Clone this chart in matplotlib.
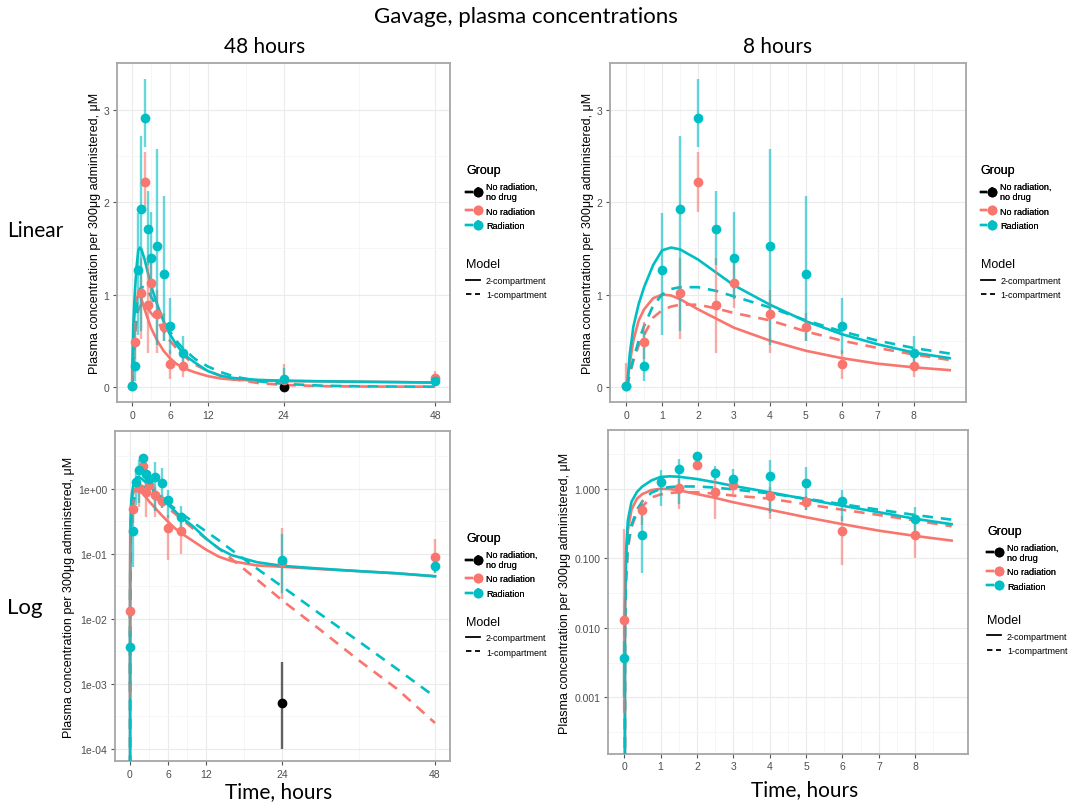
import numpy as np
import matplotlib
matplotlib.use("Agg")
import matplotlib.pyplot as plt
from matplotlib.lines import Line2D
from matplotlib.legend_handler import HandlerTuple

t_rad = [0, 0.5, 1, 1.5, 2, 2.5, 3, 4, 5, 6, 8, 24, 48]
c_rad = [0.0037, 0.22, 1.27, 1.93, 2.92, 1.71, 1.40, 1.53, 1.22, 0.66, 0.37, 0.08, 0.065]
lo_rad = [0.001, 0.062, 0.56, 0.6, 2.6, 1.32, 0.95, 0.45, 0.5, 0.35, 0.22, 0.025, 0.05]
hi_rad = [0.0065, 0.6, 1.88, 2.72, 3.34, 2.12, 1.9, 2.58, 2.07, 0.96, 0.55, 0.2, 0.08]

t_norad = [0, 0.5, 1.5, 2, 2.5, 3, 4, 5, 6, 8, 24, 48]
c_norad = [0.013, 0.49, 1.02, 2.22, 0.89, 1.13, 0.79, 0.65, 0.25, 0.22, 0.075, 0.09]
lo_norad = [0.0006, 0.3, 0.52, 1.9, 0.37, 0.85, 0.37, 0.5, 0.08, 0.1, 0.02, 0.05]
hi_norad = [0.26, 0.7, 1.4, 2.55, 1.4, 1.4, 1.05, 0.8, 0.4, 0.35, 0.25, 0.17]

t_nodrug = [24]
c_nodrug = [0.0005]
lo_nodrug = [0.0001]
hi_nodrug = [0.0022]

# Model curves
t_model = [0, 0.02, 0.05, 0.1, 0.2, 0.35, 0.5, 0.75, 1, 1.25, 1.5, 2, 2.5, 3, 4, 5, 6, 7, 8, 9,
           10, 12, 14, 16, 20, 24, 30, 36, 42, 48]
rad_2c = [0, 0.02, 0.12, 0.35, 0.65, 0.9, 1.08, 1.32, 1.48, 1.51, 1.49, 1.38, 1.24, 1.1, 0.89,
          0.71, 0.57, 0.46, 0.37, 0.31, 0.26, 0.17, 0.12, 0.095, 0.074, 0.065, 0.059, 0.054,
          0.05, 0.045]
norad_2c = [0, 0.015, 0.09, 0.25, 0.5, 0.72, 0.84, 0.96, 1.0, 0.99, 0.95, 0.84, 0.74, 0.64, 0.5,
            0.39, 0.31, 0.25, 0.21, 0.18, 0.155, 0.115, 0.09, 0.077, 0.066, 0.063, 0.058, 0.054,
            0.05, 0.045]
rad_1c = [0, 0.01, 0.05, 0.15, 0.3, 0.5, 0.66, 0.88, 1.0, 1.06, 1.08, 1.08, 1.04, 0.98, 0.86,
          0.72, 0.6, 0.5, 0.42, 0.36, 0.30, 0.22, 0.16, 0.114, 0.059, 0.031, 0.0117, 0.0045,
          0.0017, 0.00063]
norad_1c = [0, 0.01, 0.05, 0.14, 0.28, 0.45, 0.56, 0.75, 0.83, 0.87, 0.89, 0.89, 0.85, 0.8, 0.72,
            0.6, 0.5, 0.42, 0.35, 0.29, 0.24, 0.17, 0.12, 0.083, 0.04, 0.019, 0.0067, 0.0023,
            0.00084, 0.00025]

RED = '#F8766D'
TEAL = '#00BFC4'
BLACK = '#000000'
HEAD_FONT = ['Lato', 'DejaVu Sans']
GG_FONT = ['Liberation Sans', 'DejaVu Sans']
YLABEL = 'Plasma concentration per 300\u03bcg administered, \u03bcM'

fig = plt.figure(figsize=(10.72, 8.03), dpi=100)

def draw_panel(rect, log, long_run):
    ax = fig.add_axes(rect)
    tm = np.array(t_model)
    keep = tm <= (48 if long_run else 9)
    # model curves
    ax.plot(tm[keep], np.array(norad_2c)[keep], color=RED, lw=1.9, zorder=3)
    ax.plot(tm[keep], np.array(norad_1c)[keep], color=RED, lw=1.9, ls=(0, (4, 3)), zorder=3)
    ax.plot(tm[keep], np.array(rad_2c)[keep], color=TEAL, lw=1.9, zorder=3)
    ax.plot(tm[keep], np.array(rad_1c)[keep], color=TEAL, lw=1.9, ls=(0, (4, 3)), zorder=3)

    conts = []
    for t, c, lo, hi, col in [(t_nodrug, c_nodrug, lo_nodrug, hi_nodrug, BLACK),
                              (t_norad, c_norad, lo_norad, hi_norad, RED),
                              (t_rad, c_rad, lo_rad, hi_rad, TEAL)]:
        t = np.array(t); c = np.array(c)
        err = [c - np.array(lo), np.array(hi) - c]
        if not long_run:
            m = t <= 9
            t = t[m]; c = c[m]; err = [err[0][m], err[1][m]]
        eb = ax.errorbar(t, c, yerr=err, fmt='o', color=col, ms=6, mec=col,
                         elinewidth=1.7, ecolor=matplotlib.colors.to_rgba(col, 0.6),
                         capsize=0, zorder=4)
        conts.append((Line2D([], [], color=col, lw=1.7), eb))

    if long_run:
        ax.set_xlim(-2.4, 50.4)
        ax.set_xticks([0, 6, 12, 24, 48])
        ax.set_xticks([3, 9, 18, 36], minor=True)
    else:
        ax.set_xlim(-0.45, 9.45)
        ax.set_xticks(range(0, 9))
        ax.set_xticks(np.arange(0.5, 9, 1), minor=True)

    if log:
        ax.set_yscale('log', nonpositive='clip')
        if long_run:
            ax.set_ylim(6.5e-5, 7.7)
            ax.set_yticks([1e-4, 1e-3, 1e-2, 1e-1, 1],
                          ['1e-04', '1e-03', '1e-02', '1e-01', '1e+00'])
        else:
            ax.set_ylim(1.55e-4, 6.95)
            ax.set_yticks([1e-3, 1e-2, 1e-1, 1], ['0.001', '0.010', '0.100', '1.000'])
        ax.set_yticks([10 ** -3.5, 10 ** -2.5, 10 ** -1.5, 10 ** -0.5, 10 ** 0.5], minor=True)
        ax.yaxis.set_minor_formatter(matplotlib.ticker.NullFormatter())
    else:
        ax.set_ylim(-0.167, 3.51)
        ax.set_yticks([0, 1, 2, 3])
        ax.set_yticks([0.5, 1.5, 2.5], minor=True)

    ax.grid(True, which='major', color='#EBEBEB', lw=0.8, zorder=0)
    ax.grid(True, which='minor', color='#F5F5F5', lw=0.6, zorder=0)
    ax.set_axisbelow(True)
    for s in ax.spines.values():
        s.set_color('#A6A6A6')
        s.set_linewidth(1.3)
    ax.tick_params(which='major', length=3, width=0.8, color='#555555',
                   labelsize=7.5, labelcolor='#4D4D4D', pad=2.5)
    ax.tick_params(which='minor', length=0)
    for lab in ax.get_xticklabels() + ax.get_yticklabels():
        lab.set_family(GG_FONT)
    ax.set_ylabel(YLABEL, fontsize=9, family=GG_FONT, labelpad=2)
    return ax, conts


def add_legends(ax, conts, x, y_group, y_model):
    g = fig.legend(conts, ['No radiation,\nno drug', 'No radiation', 'Radiation'],
                   handler_map={tuple: HandlerTuple(ndivide=None)},
                   title='Group', loc='upper left', bbox_to_anchor=(x, y_group),
                   frameon=False, prop={'family': GG_FONT, 'size': 6.5},
                   title_fontproperties={'family': GG_FONT, 'size': 9},
                   handlelength=1.6, handletextpad=0.6, borderpad=0.3,
                   alignment='left', labelspacing=0.6)
    fig.add_artist(g)
    mh = [Line2D([], [], color='black', lw=1.3), Line2D([], [], color='black', lw=1.3, ls=(0, (3, 2)))]
    fig.legend(mh, ['2-compartment', '1-compartment'], title='Model', loc='upper left',
               bbox_to_anchor=(x, y_model), frameon=False,
               prop={'family': GG_FONT, 'size': 6.5},
               title_fontproperties={'family': GG_FONT, 'size': 9},
               handlelength=1.6, handletextpad=0.6, borderpad=0.3,
               alignment='left', labelspacing=0.6)


ax1, c1 = draw_panel([0.109, 0.498, 0.311, 0.422], log=False, long_run=True)
ax2, c2 = draw_panel([0.569, 0.498, 0.332, 0.422], log=False, long_run=False)
ax3, c3 = draw_panel([0.107, 0.051, 0.313, 0.411], log=True, long_run=True)
ax4, c4 = draw_panel([0.567, 0.060, 0.336, 0.403], log=True, long_run=False)

add_legends(ax1, c1, 0.428, 0.803, 0.686)
add_legends(ax2, c2, 0.908, 0.803, 0.686)
add_legends(ax3, c3, 0.428, 0.345, 0.241)
add_legends(ax4, c4, 0.914, 0.354, 0.243)

# headings
fig.text(0.491, 0.979, 'Gavage, plasma concentrations', ha='center', va='center',
         fontsize=16, family=HEAD_FONT)
fig.text(0.247, 0.941, '48 hours', ha='center', va='center', fontsize=15, family=HEAD_FONT)
fig.text(0.725, 0.941, '8 hours', ha='center', va='center', fontsize=15, family=HEAD_FONT)
fig.text(0.033, 0.712, 'Linear', ha='center', va='center', fontsize=15, family=HEAD_FONT)
fig.text(0.023, 0.243, 'Log', ha='center', va='center', fontsize=16, family=HEAD_FONT)
fig.text(0.260, 0.014, 'Time, hours', ha='center', va='center', fontsize=15, family=HEAD_FONT)
fig.text(0.751, 0.016, 'Time, hours', ha='center', va='center', fontsize=15, family=HEAD_FONT)

fig.savefig('out.png', dpi=100)
